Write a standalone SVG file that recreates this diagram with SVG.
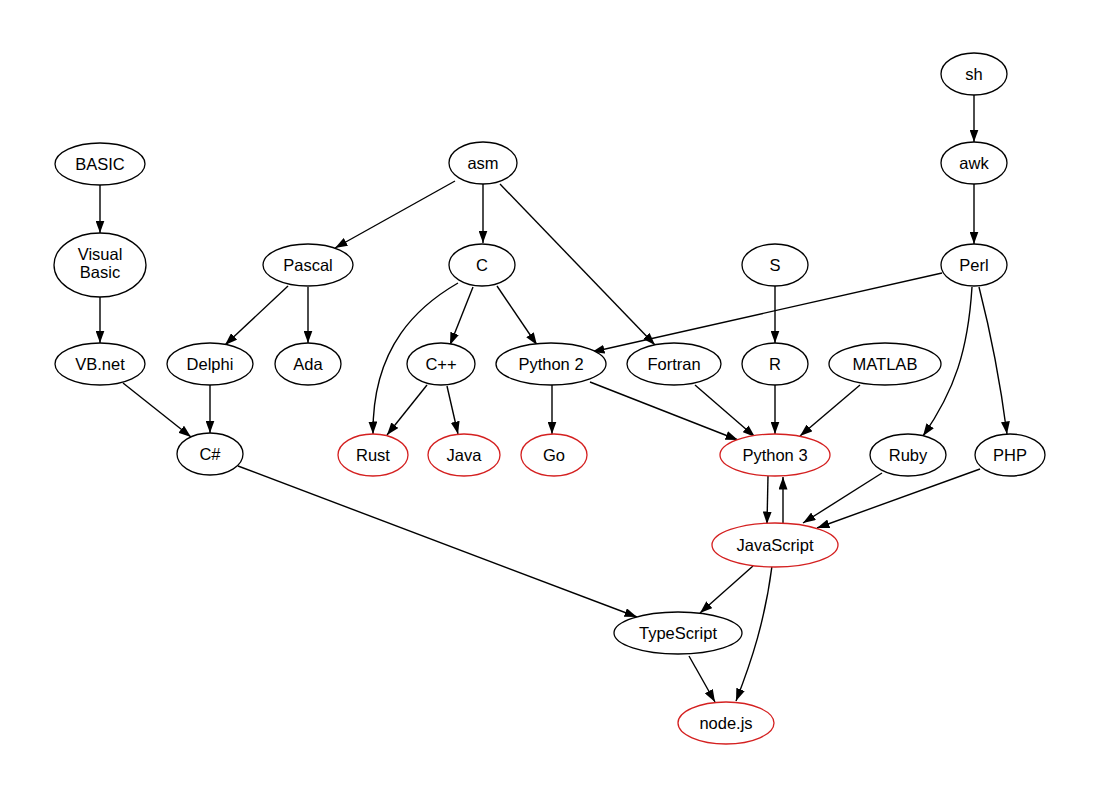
<svg xmlns="http://www.w3.org/2000/svg" width="1100" height="800" viewBox="0 0 1100 800">
<defs>
<marker id="ah" viewBox="0 0 12.5 9" refX="12.5" refY="4.5" markerWidth="12.5" markerHeight="9" markerUnits="userSpaceOnUse" orient="auto">
<path d="M0,0 L12.5,4.5 L0,9 z" fill="#000"/>
</marker>
<style>
.n ellipse{fill:#fff;stroke:#000;stroke-width:1.3}
.r ellipse{stroke:#d42020}
text{font-family:"Liberation Sans",Arial,sans-serif;font-size:16.5px;text-anchor:middle;fill:#000}
.e path{fill:none;stroke:#000;stroke-width:1.4;marker-end:url(#ah)}
</style>
</defs>
<rect width="1100" height="800" fill="#fff"/>
<g class="e" id="edges">
<path d="M100,185 L100,233"/>
<path d="M100,297 L100,343"/>
<path d="M123,383 L191,437"/>
<path d="M210,385 L210,433"/>
<path d="M288,286 L225,345"/>
<path d="M308,287 L308,343"/>
<path d="M455,181 L335,248"/>
<path d="M483,184 L483,243"/>
<path d="M500,184 L655,345"/>
<path d="M473,287 L450,345"/>
<path d="M497,286 L537,345"/>
<path d="M458,283 C420,305 372,345 373,434"/>
<path d="M427,385 L387,435"/>
<path d="M447,386 L458,434"/>
<path d="M552,385 L552,434"/>
<path d="M590,382 L738,440"/>
<path d="M942,273 L592,352"/>
<path d="M695,385 L755,437"/>
<path d="M775,286 L775,343"/>
<path d="M775,385 L775,434"/>
<path d="M860,385 L800,436"/>
<path d="M974,95 L974,142"/>
<path d="M974,184 L974,244"/>
<path d="M972,287 C968,350 955,390 923,436"/>
<path d="M979,287 C990,330 1000,380 1007,434"/>
<path d="M768,476 L767,524"/>
<path d="M783,523 L783,477"/>
<path d="M882,473 L803,523"/>
<path d="M980,469 L817,528"/>
<path d="M238,466 L637,617"/>
<path d="M753,566 L700,613"/>
<path d="M772,566 C765,620 752,660 736,701"/>
<path d="M689,656 L715,702"/>
</g>
<g id="BASIC" class="n"><ellipse cx="100" cy="164" rx="45" ry="21"/><text x="100" y="170">BASIC</text></g>
<g id="VisualBasic" class="n"><ellipse cx="100" cy="265" rx="46" ry="32"/><text x="100" y="260">Visual</text><text x="100" y="278">Basic</text></g>
<g id="VBnet" class="n"><ellipse cx="100" cy="364" rx="45" ry="21"/><text x="100" y="370">VB.net</text></g>
<g id="Delphi" class="n"><ellipse cx="210" cy="364" rx="43" ry="21"/><text x="210" y="370">Delphi</text></g>
<g id="Ada" class="n"><ellipse cx="308" cy="364" rx="33" ry="21"/><text x="308" y="370">Ada</text></g>
<g id="Pascal" class="n"><ellipse cx="308" cy="265" rx="45" ry="21"/><text x="308" y="271">Pascal</text></g>
<g id="CSharp" class="n"><ellipse cx="210" cy="454" rx="33" ry="21"/><text x="210" y="460">C#</text></g>
<g id="asm" class="n"><ellipse cx="483" cy="163" rx="34" ry="21"/><text x="483" y="169">asm</text></g>
<g id="C" class="n"><ellipse cx="482" cy="265" rx="33" ry="21"/><text x="482" y="271">C</text></g>
<g id="Cpp" class="n"><ellipse cx="441" cy="364" rx="34" ry="21"/><text x="441" y="370">C++</text></g>
<g id="Python2" class="n"><ellipse cx="551" cy="364" rx="55" ry="21"/><text x="551" y="370">Python 2</text></g>
<g id="Fortran" class="n"><ellipse cx="674" cy="364" rx="47" ry="21"/><text x="674" y="370">Fortran</text></g>
<g id="Rust" class="n r"><ellipse cx="373" cy="455" rx="35" ry="21"/><text x="373" y="461">Rust</text></g>
<g id="Java" class="n r"><ellipse cx="464" cy="455" rx="36" ry="21"/><text x="464" y="461">Java</text></g>
<g id="Go" class="n r"><ellipse cx="554" cy="455" rx="33" ry="21"/><text x="554" y="461">Go</text></g>
<g id="sh" class="n"><ellipse cx="974" cy="74" rx="33" ry="21"/><text x="974" y="80">sh</text></g>
<g id="awk" class="n"><ellipse cx="974" cy="163" rx="33" ry="21"/><text x="974" y="169">awk</text></g>
<g id="Perl" class="n"><ellipse cx="974" cy="265" rx="33" ry="21"/><text x="974" y="271">Perl</text></g>
<g id="S" class="n"><ellipse cx="775" cy="265" rx="33" ry="21"/><text x="775" y="271">S</text></g>
<g id="R" class="n"><ellipse cx="775" cy="364" rx="33" ry="21"/><text x="775" y="370">R</text></g>
<g id="MATLAB" class="n"><ellipse cx="885" cy="364" rx="56" ry="21"/><text x="885" y="370">MATLAB</text></g>
<g id="Python3" class="n r"><ellipse cx="775" cy="455" rx="55" ry="21"/><text x="775" y="461">Python 3</text></g>
<g id="Ruby" class="n"><ellipse cx="908" cy="455" rx="38" ry="21"/><text x="908" y="461">Ruby</text></g>
<g id="PHP" class="n"><ellipse cx="1010" cy="455" rx="35" ry="21"/><text x="1010" y="461">PHP</text></g>
<g id="JavaScript" class="n r"><ellipse cx="775" cy="545" rx="63" ry="22"/><text x="775" y="551">JavaScript</text></g>
<g id="TypeScript" class="n"><ellipse cx="678" cy="633" rx="64" ry="21"/><text x="678" y="639">TypeScript</text></g>
<g id="nodejs" class="n r"><ellipse cx="726" cy="723" rx="48" ry="21"/><text x="726" y="729">node.js</text></g>
</svg>
